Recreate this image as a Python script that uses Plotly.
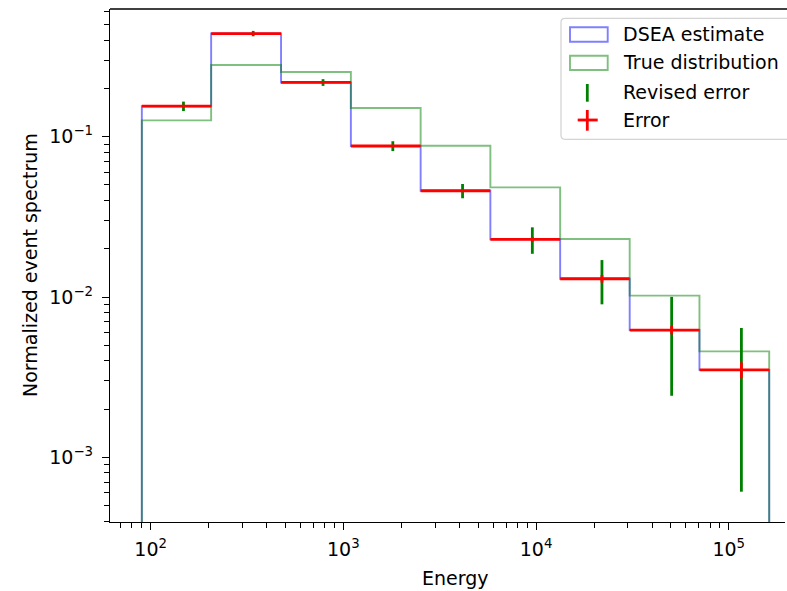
import numpy as np
import plotly.graph_objects as go

# ---------------- data ----------------
bin_edges = [90, 206, 475, 1094, 2518, 5794, 13340, 30620, 70470, 162200]
dsea_estimate = [0.155, 0.44, 0.218, 0.0875, 0.046, 0.0229, 0.0130, 0.00622, 0.00351]
true_distribution = [0.1265, 0.280, 0.2535, 0.151, 0.0879, 0.0483, 0.0230, 0.0102, 0.00458]
revised_error = [0.0105, 0.017, 0.0105, 0.0062, 0.0047, 0.0043, 0.0040, 0.0038, 0.0029]
error = [0.003, 0.004, 0.0025, 0.0012, 0.0009, 0.0008, 0.0007, 0.00037, 0.0004]

x_tick_vals = [1e2, 1e3, 1e4, 1e5]
x_tick_text = ["10<sup>2</sup>", "10<sup>3</sup>", "10<sup>4</sup>", "10<sup>5</sup>"]
y_tick_vals = [1e-3, 1e-2, 1e-1]
y_tick_text = ["10<sup>\u22123</sup>", "10<sup>\u22122</sup>", "10<sup>\u22121</sup>"]

BASELINE = 1e-6

# ---------------- layout constants ----------------
W, H = 787, 591
L, R, T, B = 110, 2, 9, 69
PW, PH = W - L - R, H - T - B
FONT = "DejaVu Sans"
FS = 19


def px_x(p):
    return (p - L) / PW


def px_y(p):
    return (H - B - p) / PH


edges = np.array(bin_edges, dtype=float)
mids = (edges[:-1] + edges[1:]) / 2


def step_xy(vals):
    x = [edges[0]] + list(edges) + [edges[-1]]
    y = [BASELINE] + list(vals) + [vals[-1], BASELINE]
    return x, y


fig = go.Figure()

xs, ys = step_xy(dsea_estimate)
fig.add_trace(go.Scatter(x=xs, y=ys, mode="lines", line=dict(shape="hv", color="rgba(0,0,255,0.5)", width=1.9),
                         showlegend=False, hoverinfo="skip"))
xs, ys = step_xy(true_distribution)
fig.add_trace(go.Scatter(x=xs, y=ys, mode="lines", line=dict(shape="hv", color="rgba(0,128,0,0.5)", width=1.9),
                         showlegend=False, hoverinfo="skip"))

# revised error (green)
fig.add_trace(go.Scatter(
    x=mids, y=dsea_estimate, mode="markers",
    marker=dict(size=1, color="rgba(0,0,0,0)"),
    error_y=dict(type="data", array=revised_error, color="#008000", thickness=2.8, width=0),
    showlegend=False, hoverinfo="skip"))

# error (red)
fig.add_trace(go.Scatter(
    x=mids, y=dsea_estimate, mode="markers",
    marker=dict(size=1, color="rgba(0,0,0,0)"),
    error_x=dict(type="data", symmetric=False, array=list(edges[1:] - mids), arrayminus=list(mids - edges[:-1]),
                 color="red", thickness=2.8, width=0),
    error_y=dict(type="data", array=error, color="red", thickness=2.8, width=0),
    showlegend=False, hoverinfo="skip"))

# minor ticks
x_minor = [m * 10 ** k for k in range(1, 6) for m in range(2, 10)]
y_minor = [m * 10 ** k for k in range(-4, 0) for m in range(2, 10)]

axis_common = dict(showgrid=False, zeroline=False, showline=True, linecolor="black", linewidth=1.4,
                   ticks="outside", ticklen=7, tickwidth=1.3, tickcolor="black",
                   tickfont=dict(family=FONT, size=FS, color="black"))

fig.update_xaxes(type="log", range=[1.789, 5.292], tickmode="array", tickvals=x_tick_vals, ticktext=x_tick_text,
                 minor=dict(tickmode="array", tickvals=x_minor, ticks="outside", ticklen=4.5, tickwidth=1.1,
                            tickcolor="black", showgrid=False),
                 ticklabelstandoff=3, **axis_common)
fig.update_yaxes(type="log", range=[-3.4036, -0.2034], tickmode="array", tickvals=y_tick_vals, ticktext=y_tick_text,
                 minor=dict(tickmode="array", tickvals=y_minor, ticks="outside", ticklen=4.5, tickwidth=1.1,
                            tickcolor="black", showgrid=False),
                 ticklabelstandoff=5, **axis_common)

shapes = []
# top spine (right part of the axes is cropped in the reference)
shapes.append(dict(type="line", xref="paper", yref="paper", x0=0, x1=1.05, y0=1, y1=1,
                   line=dict(color="black", width=1.4)))

# legend frame with rounded left corners
x0, x1, y0, y1, r = 561, 800, 18.3, 139.3, 4
path = "M {} {} L {} {} L {} {} L {} {} Q {} {} {} {} L {} {} Q {} {} {} {} Z".format(
    px_x(x0 + r), px_y(y0), px_x(x1), px_y(y0), px_x(x1), px_y(y1), px_x(x0 + r), px_y(y1),
    px_x(x0), px_y(y1), px_x(x0), px_y(y1 - r), px_x(x0), px_y(y0 + r),
    px_x(x0), px_y(y0), px_x(x0 + r), px_y(y0))
shapes.append(dict(type="path", xref="paper", yref="paper", path=path,
                   fillcolor="rgba(255,255,255,0.8)", line=dict(color="#d4d4d4", width=1.3)))

# legend handles
shapes.append(dict(type="rect", xref="paper", yref="paper", x0=px_x(570), x1=px_x(607.7), y0=px_y(27.3), y1=px_y(41.7),
                   line=dict(color="rgba(0,0,255,0.5)", width=1.9)))
shapes.append(dict(type="rect", xref="paper", yref="paper", x0=px_x(570), x1=px_x(607.7), y0=px_y(55.7), y1=px_y(70),
                   line=dict(color="rgba(0,128,0,0.5)", width=1.9)))
shapes.append(dict(type="line", xref="paper", yref="paper", x0=px_x(587.3), x1=px_x(587.3), y0=px_y(84), y1=px_y(101.7),
                   line=dict(color="#008000", width=2.8)))
shapes.append(dict(type="line", xref="paper", yref="paper", x0=px_x(577.7), x1=px_x(597.7), y0=px_y(120), y1=px_y(120),
                   line=dict(color="red", width=2.8)))
shapes.append(dict(type="line", xref="paper", yref="paper", x0=px_x(587.3), x1=px_x(587.3), y0=px_y(110), y1=px_y(130.7),
                   line=dict(color="red", width=2.8)))

legend_labels = ["DSEA estimate", "True distribution", "Revised error", "Error"]
legend_y = [34, 62.3, 91.7, 120]
annotations = []
for lab, yy in zip(legend_labels, legend_y):
    annotations.append(dict(text=lab, xref="paper", yref="paper", x=px_x(621), y=px_y(yy),
                            xanchor="left", yanchor="middle", showarrow=False,
                            font=dict(family=FONT, size=FS, color="black")))

annotations.append(dict(text="Energy", xref="paper", yref="paper", x=px_x(455.5), y=px_y(577.5),
                        xanchor="center", yanchor="middle", showarrow=False,
                        font=dict(family=FONT, size=FS, color="black")))
annotations.append(dict(text="Normalized event spectrum", xref="paper", yref="paper", x=px_x(29.5), y=px_y(265.5),
                        xanchor="center", yanchor="middle", showarrow=False, textangle=-90,
                        font=dict(family=FONT, size=FS, color="black")))

fig.update_layout(width=W, height=H, margin=dict(l=L, r=R, t=T, b=B, pad=0),
                  plot_bgcolor="white", paper_bgcolor="white",
                  shapes=shapes, annotations=annotations, showlegend=False,
                  font=dict(family=FONT, size=FS, color="black"))

fig.write_html("out.html", config={"displayModeBar": False},
               post_script="document.body.style.margin='0';document.body.style.padding='0';"
                           "document.body.style.overflow='hidden';")
